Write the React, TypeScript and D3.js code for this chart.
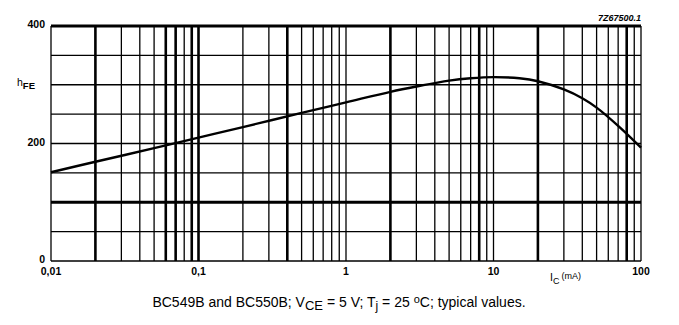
import React from "react";
import * as d3 from "d3";

const icValues = [0.01, 0.02, 0.05, 0.1, 0.2, 0.5, 1, 2, 3, 5, 7, 10, 15, 20, 30, 40, 50, 70, 100];
const hfeValues = [151, 169, 192, 210, 228, 252, 270, 288, 297, 307, 311, 313, 311, 306, 292, 277, 261, 230, 193];

const xTickValues = [0.01, 0.1, 1, 10, 100];
const xTickLabels = ["0,01", "0,1", "1", "10", "100"];
const yTickValues = [0, 200, 400];
const yGridValues = [0, 50, 100, 150, 200, 250, 300, 350, 400];
const thickY = [100, 400];
const thickX = [0.02, 0.06, 0.07, 0.09, 0.1, 0.4, 2, 8, 20, 80];

const W = 679;
const H = 325;
const L = 51, R = 641, T = 26, B = 261;

export default function App() {
  const x = d3.scaleLog().domain([0.01, 100]).range([L, R]);
  const y = d3.scaleLinear().domain([0, 400]).range([B, T]);

  const vGrid: number[] = [];
  for (let dec = 0.01; dec < 100; dec *= 10) {
    for (let k = 1; k <= 9; k++) vGrid.push(+(dec * k).toPrecision(3));
  }
  vGrid.push(100);

  const line = d3
    .line<number>()
    .x((_, i) => x(icValues[i]))
    .y((d) => y(d))
    .curve(d3.curveCatmullRom.alpha(0.5));

  const isThick = (v: number) => thickX.some((t) => Math.abs(t - v) / t < 1e-6);
  const font = "'Liberation Sans', Arial, sans-serif";

  return (
    <svg width={W} height={H} style={{ position: "absolute", left: 0, top: 0, background: "#fff" }} fontFamily={font}>
      <rect x={0} y={0} width={W} height={H} fill="#fff" />
      {vGrid.map((v, i) => (
        <line key={"v" + i} x1={x(v)} x2={x(v)} y1={T} y2={B} stroke="#000" strokeWidth={isThick(v) ? 2.6 : 1.3} />
      ))}
      {yGridValues.map((v) => (
        <line key={"h" + v} x1={L} x2={R} y1={y(v)} y2={y(v)} stroke="#000" strokeWidth={thickY.includes(v) ? 2.8 : 1.3} />
      ))}
      <path d={line(hfeValues) || ""} fill="none" stroke="#000" strokeWidth={2.4} />
      {yTickValues.map((v) => (
        <text key={"yt" + v} x={45} y={y(v) + 2} textAnchor="end" fontSize={10.5} fontWeight="bold">
          {v}
        </text>
      ))}
      {xTickValues.map((v, i) => (
        <text key={"xt" + v} x={x(v)} y={275} textAnchor="middle" fontSize={10.5} fontWeight="bold">
          {xTickLabels[i]}
        </text>
      ))}
      <text x={17} y={86} fontSize={10.5}>
        h<tspan fontSize={9.5} dy={3} fontWeight="bold">FE</tspan>
      </text>
      <text x={550} y={281} fontSize={10.5}>
        I<tspan fontSize={9} dy={3}>C</tspan>
        <tspan fontSize={9} dy={-5} dx={2}>(mA)</tspan>
      </text>
      <text x={641} y={21} textAnchor="end" fontSize={9} fontStyle="italic" fontWeight="bold">
        7Z67500.1
      </text>
      <text x={339} y={307} textAnchor="middle" fontSize={14}>
        BC549B and BC550B; V<tspan fontSize={13} dy={3}>CE</tspan>
        <tspan dy={-3}> = 5 V; T</tspan>
        <tspan fontSize={12} dy={3}>j</tspan>
        <tspan dy={-3}> = 25 </tspan>
        <tspan fontSize={11} dy={-4}>o</tspan>
        <tspan dy={4}>C; typical values.</tspan>
      </text>
    </svg>
  );
}
